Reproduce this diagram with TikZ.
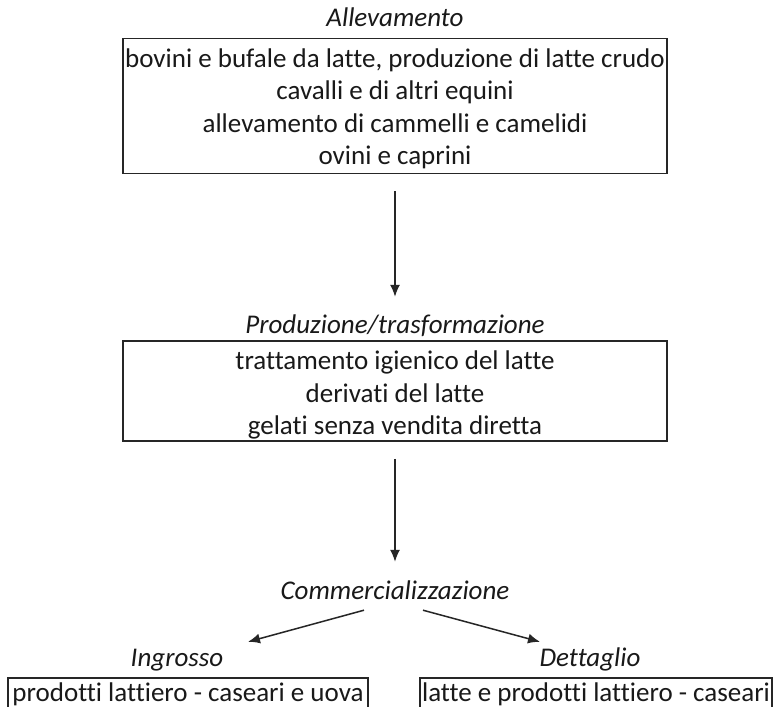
\documentclass[tikz,border=0pt]{standalone}
\usepackage{fontspec}
\setmainfont{Carlito}[Ligatures={NoCommon,NoContextual}]
\usetikzlibrary{arrows.meta}
\begin{document}
\begin{tikzpicture}[x=1pt,y=-1pt,
  box/.style={draw=black!85, line width=1.5pt, inner sep=0pt, align=center, text=black!90,
    font=\fontsize{27}{32.5}\selectfont},
  lbl/.style={font=\fontsize{27}{32.5}\selectfont\itshape, text=black!90, inner sep=0pt,
    text height=19pt, text depth=6pt},
  arr/.style={draw=black!85, line width=1.5pt, -{Latex[length=12pt,width=10pt]}}]
\useasboundingbox (0,0) rectangle (774,707);
\clip (0,0) rectangle (774,707);
\fill[white] (0,0) rectangle (774,707);

\node[lbl] (l1) at (395,20) {Allevamento};
\node[box, minimum width=544pt, minimum height=135pt] (b1) at (395,106)
  {\rule{0pt}{24pt}bovini e bufale da latte, produzione di latte crudo\\
   cavalli e di altri equini\\
   allevamento di cammelli e camelidi\\
   ovini e caprini};

\node[lbl] (l2) at (395,327) {Produzione/trasformazione};
\node[box, minimum width=544pt, minimum height=100pt] (b2) at (395,391)
  {\rule{0pt}{27pt}trattamento igienico del latte\\
   derivati del latte\\
   gelati senza vendita diretta};

\node[lbl] (l3) at (395,593) {Commercializzazione};
\node[lbl] (l4) at (177,660) {Ingrosso};
\node[lbl] (l5) at (590,660) {Dettaglio};

\node[box, anchor=north, minimum width=360pt, inner ysep=5pt, text height=19pt, text depth=6pt]
  (b4) at (188,677) {prodotti lattiero - caseari e uova};
\node[box, anchor=north, minimum width=352pt, inner ysep=5pt, text height=19pt, text depth=6pt]
  (b5) at (596,677) {latte e prodotti lattiero - caseari};

\draw[arr] ([yshift=-17pt]b1.south) -- ([yshift=17.5pt]l2.north);
\draw[arr] ([yshift=-17pt]b2.south) -- ([yshift=18.5pt]l3.north);
\draw[arr] ([xshift=-31pt,yshift=-4.5pt]l3.south) -- ([xshift=71pt,yshift=5.5pt]l4.north);
\draw[arr] ([xshift=28pt,yshift=-4.5pt]l3.south) -- ([xshift=-50pt,yshift=5.5pt]l5.north);
\end{tikzpicture}
\end{document}
